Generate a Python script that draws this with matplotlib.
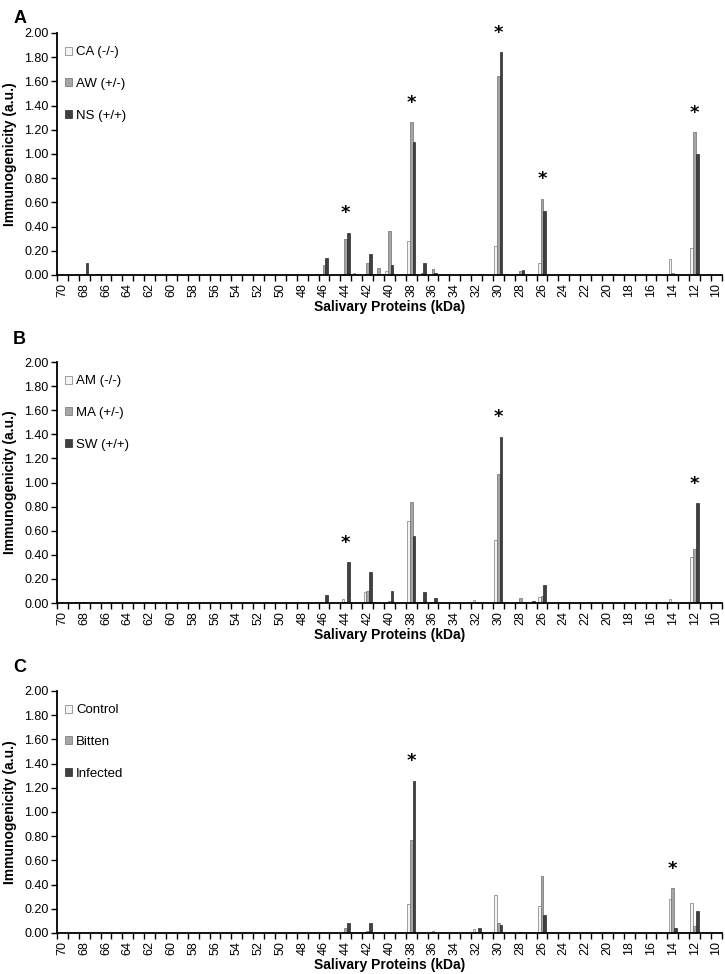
import numpy as np
import matplotlib
matplotlib.use("Agg")
import matplotlib.pyplot as plt

plt.rcParams['font.family'] = ['Liberation Sans', 'DejaVu Sans']

# x axis: salivary proteins, 70 kDa down to 10 kDa
KDA_MAX, KDA_MIN = 70, 10

# Panel A
a_kda = [70, 68, 67, 60, 46, 44, 43, 42, 41, 40, 38, 37, 36, 32, 30, 28, 26, 20, 14, 12]
a_ca = [0.01, 0.00, 0.00, 0.00, 0.01, 0.01, 0.02, 0.01, 0.00, 0.03, 0.28, 0.00, 0.00, 0.00, 0.24, 0.01, 0.10, 0.00, 0.13, 0.22]
a_aw = [0.00, 0.01, 0.00, 0.00, 0.08, 0.30, 0.00, 0.10, 0.06, 0.36, 1.26, 0.02, 0.05, 0.00, 1.64, 0.03, 0.63, 0.00, 0.02, 1.18]
a_ns = [0.00, 0.10, 0.01, 0.01, 0.14, 0.35, 0.00, 0.17, 0.01, 0.08, 1.10, 0.10, 0.02, 0.005, 1.84, 0.04, 0.53, 0.005, 0.01, 1.00]
a_labels = ['CA (-/-)', 'AW (+/-)', 'NS (+/+)']
a_stars = [44, 38, 30, 26, 12]

# Panel B
b_kda = [69, 68, 46, 44, 42, 40, 38, 37, 36, 32, 30, 28, 27, 26, 14, 12]
b_am = [0.00, 0.01, 0.00, 0.03, 0.09, 0.01, 0.68, 0.01, 0.01, 0.025, 0.52, 0.01, 0.00, 0.05, 0.03, 0.38]
b_ma = [0.00, 0.01, 0.00, 0.01, 0.10, 0.02, 0.84, 0.01, 0.01, 0.01, 1.07, 0.04, 0.00, 0.06, 0.01, 0.45]
b_sw = [0.01, 0.00, 0.07, 0.34, 0.26, 0.10, 0.56, 0.09, 0.045, 0.01, 1.38, 0.01, 0.02, 0.15, 0.00, 0.83]
b_labels = ['AM (-/-)', 'MA (+/-)', 'SW (+/+)']
b_stars = [44, 30, 12]

# Panel C
c_kda = [44, 42, 38, 36, 32, 30, 28, 26, 14, 12]
c_control = [0.00, 0.01, 0.24, 0.00, 0.035, 0.31, 0.00, 0.22, 0.28, 0.25]
c_bitten = [0.04, 0.02, 0.77, 0.02, 0.01, 0.085, 0.01, 0.47, 0.37, 0.06]
c_infected = [0.08, 0.08, 1.26, 0.00, 0.045, 0.07, 0.00, 0.145, 0.04, 0.18]
c_labels = ['Control', 'Bitten', 'Infected']
c_stars = [38, 14]

FILLS = ['#f4f4f4', '#a6a6a6', '#404040']
EDGES = ['#7a7a7a', '#6e6e6e', '#2a2a2a']
BAR_W = 0.25

fig = plt.figure(figsize=(7.25, 9.74), dpi=100)

# axes boxes in figure fractions (left, bottom, width, height)
boxes = [(0.0786, 0.7177, 0.917, 0.2485),
         (0.0786, 0.3809, 0.917, 0.2474),
         (0.0786, 0.0421, 0.917, 0.2485)]
letters = ['A', 'B', 'C']
letter_y = [0.990, 0.6605, 0.3235]

panels = [
    (a_kda, [a_ca, a_aw, a_ns], a_labels, a_stars),
    (b_kda, [b_am, b_ma, b_sw], b_labels, b_stars),
    (c_kda, [c_control, c_bitten, c_infected], c_labels, c_stars),
]


def draw_panel(ax, kda, series, labels, stars):
    kda = np.array(kda)
    # first series sits on the left; the axis runs high to low kDa
    offsets = [BAR_W, 0.0, -BAR_W]
    for vals, off, fc, ec, lab in zip(series, offsets, FILLS, EDGES, labels):
        ax.bar(kda + off, vals, width=BAR_W, color=fc, edgecolor=ec,
               linewidth=0.5, label=lab)

    tops = np.max(np.array(series), axis=0)
    for s in stars:
        top = tops[list(kda).index(s)]
        ax.text(s, top + 0.16, '*', ha='center', va='center',
                fontsize=13, fontweight='bold', family='DejaVu Sans')

    ax.set_xlim(KDA_MAX + 0.5, KDA_MIN - 0.5)
    ax.set_ylim(0, 2.0)
    ax.set_yticks(np.arange(0, 2.01, 0.2))
    ax.set_yticklabels([f'{v:.2f}' for v in np.arange(0, 2.01, 0.2)])

    even = np.arange(KDA_MAX, KDA_MIN - 1, -2)
    ax.set_xticks(even)
    ax.set_xticklabels([str(v) for v in even], rotation=90)
    ax.set_xticks(np.arange(KDA_MIN - 0.5, KDA_MAX + 0.6, 1.0), minor=True)
    ax.tick_params(axis='x', which='major', length=0, pad=6, labelsize=9)
    ax.tick_params(axis='x', which='minor', length=4.5, width=1.0, direction='out')
    ax.tick_params(axis='y', which='major', length=4, width=1.0, labelsize=9, pad=2)

    for side in ['top', 'right']:
        ax.spines[side].set_visible(False)
    for side in ['left', 'bottom']:
        ax.spines[side].set_linewidth(1.3)

    ax.set_xlabel('Salivary Proteins (kDa)', fontsize=10, fontweight='bold')
    ax.xaxis.set_label_coords(0.5, -0.105)
    ax.set_ylabel('Immunogenicity (a.u.)', fontsize=10, fontweight='bold')
    ax.yaxis.set_label_coords(-0.06, 0.5)

    ax.legend(loc='upper left', bbox_to_anchor=(0.012, 0.945), frameon=False,
              fontsize=9.5, handlelength=0.55, handleheight=0.55,
              handletextpad=0.3, labelspacing=1.5, borderpad=0,
              borderaxespad=0)


for box, letter, ly, (kda, series, labels, stars) in zip(boxes, letters, letter_y, panels):
    ax = fig.add_axes(box)
    draw_panel(ax, kda, series, labels, stars)
    fig.text(0.018, ly, letter, fontsize=13, fontweight='bold', va='top', ha='left')

fig.savefig('out.png', dpi=100)
